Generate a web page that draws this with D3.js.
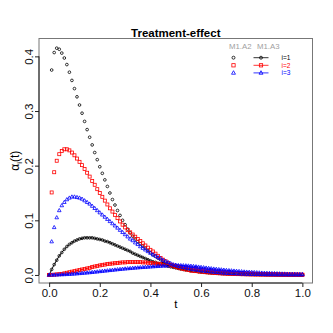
<!DOCTYPE html>
<html>
<head>
<meta charset="utf-8">
<script src="https://cdn.jsdelivr.net/npm/d3@7"></script>
<style>
  body { margin: 0; background: #fff; }
  svg { display: block; font-family: "Liberation Sans", Arial, sans-serif; }
</style>
</head>
<body>
<div id="chart"></div>
<script>
// time grid, 0 to 1 by 0.01
const tValues = d3.range(101).map(i => i / 100);

// M1.A2 (points only)
const a2i1 = [0, .375, .407, .415, .413, .406, .397, .385, .371, .356,
  .341, .326, .311, .296, .281, .266, .252, .238, .224, .211,
  .198, .186, .174, .162, .150, .138, .128, .118, .109, .100,
  .092, .084, .077, .071, .066, .061, .057, .053, .049, .045,
  .041, .037, .034, .031, .028, .025, .023, .020, .018, .016,
  .015, .013, .012, .011, .010, .009, .008, .0075, .007, .006,
  .0055, .005, .0045, .0041, .0037, .0034, .0031, .0028, .0025, .0023,
  .0021, .0019, .0017, .0016, .0014, .0013, .0012, .0011, .001, .0009,
  .0009, .0008, .0007, .0007, .0006, .0006, .0005, .0005, .0005, .0004,
  .0004, .0004, .0003, .0003, .0003, .0003, .0002, .0002, .0002, .0002,
  .0002];
const a2i2 = [0, .151, .188, .209, .221, .227, .230, .230, .228, .224,
  .219, .213, .207, .201, .194, .187, .180, .172, .165, .157,
  .150, .143, .136, .129, .122, .116, .110, .104, .098, .092,
  .087, .082, .078, .074, .070, .066, .062, .058, .054, .050,
  .046, .043, .039, .035, .031, .028, .025, .022, .019, .017,
  .015, .0135, .012, .011, .010, .009, .008, .0075, .007, .0065,
  .006, .0055, .005, .0046, .0042, .0038, .0035, .0032, .0029, .0026,
  .0024, .0022, .002, .0018, .0017, .0015, .0014, .0013, .0012, .0011,
  .001, .0009, .0009, .0008, .0007, .0007, .0006, .0006, .0005, .0005,
  .0005, .0004, .0004, .0004, .0003, .0003, .0003, .0003, .0003, .0002,
  .0002];
const a2i3 = [0, .061, .087, .105, .118, .127, .133, .138, .141, .143,
  .143, .142, .141, .139, .136, .133, .130, .126, .122, .118,
  .114, .110, .106, .102, .098, .094, .090, .086, .082, .078,
  .074, .070, .066, .063, .059, .056, .052, .049, .046, .043,
  .040, .037, .035, .032, .030, .027, .025, .023, .021, .019,
  .018, .016, .015, .014, .013, .012, .011, .010, .0095, .009,
  .008, .0075, .007, .0065, .006, .0055, .005, .0046, .0042, .0038,
  .0035, .0032, .0029, .0027, .0025, .0023, .0021, .0019, .0017, .0016,
  .0015, .0014, .0013, .0012, .0011, .001, .0009, .0009, .0008, .0008,
  .0007, .0007, .0006, .0006, .0005, .0005, .0005, .0004, .0004, .0004,
  .0004];

// M1.A3 (lines with points)
const a3i1 = [0, .010, .019, .027, .035, .041, .047, .052, .056, .059,
  .062, .064, .066, .067, .068, .068, .068, .068, .067, .066,
  .065, .064, .062, .061, .059, .057, .055, .053, .051, .049,
  .047, .045, .043, .040, .038, .036, .034, .032, .030, .028,
  .026, .024, .023, .021, .020, .019, .017, .016, .015, .014,
  .013, .012, .011, .010, .0095, .009, .008, .0075, .007, .0065,
  .006, .0055, .005, .0047, .0044, .004, .0037, .0034, .0031, .0029,
  .0027, .0025, .0023, .0021, .002, .0018, .0017, .0016, .0015, .0014,
  .0013, .0012, .0011, .001, .001, .0009, .0008, .0008, .0007, .0007,
  .0006, .0006, .0006, .0005, .0005, .0005, .0004, .0004, .0004, .0003,
  .0003];
const a3i2 = [0, .0002, .0005, .001, .0015, .002, .003, .004, .005, .006,
  .007, .008, .009, .010, .011, .012, .013, .0145, .0155, .0165,
  .0175, .0185, .019, .020, .0205, .021, .0215, .022, .0225, .023,
  .023, .0235, .0235, .0235, .0235, .0235, .0235, .023, .023, .0225,
  .022, .0215, .021, .0205, .020, .0195, .019, .018, .0175, .017,
  .016, .0155, .015, .014, .0135, .013, .012, .0115, .011, .010,
  .0095, .009, .0085, .008, .0075, .007, .0065, .006, .0057, .0054,
  .005, .0047, .0044, .0041, .0038, .0035, .0033, .0031, .0029, .0027,
  .0025, .0023, .0021, .002, .0018, .0017, .0016, .0015, .0014, .0013,
  .0012, .0011, .001, .001, .0009, .0008, .0008, .0007, .0007, .0006,
  .0006];
const a3i3 = [0, .0001, .0002, .0003, .0005, .0007, .0009, .0011, .0014, .0017,
  .002, .0024, .0028, .0032, .0036, .004, .0044, .0049, .0054, .0059,
  .0064, .0069, .0074, .0079, .0084, .0089, .0094, .0099, .0104, .0109,
  .0113, .0117, .0121, .0125, .0129, .0133, .0137, .014, .0143, .0146,
  .015, .0153, .0156, .0159, .0162, .0165, .0168, .017, .0172, .0174,
  .0175, .0175, .0174, .0172, .017, .0167, .0163, .0158, .0153, .0147,
  .0141, .0135, .0129, .0123, .0117, .0111, .0106, .0101, .0096, .0091,
  .0086, .0082, .0078, .0074, .007, .0066, .0062, .0058, .0055, .0052,
  .0049, .0046, .0043, .004, .0037, .0035, .0033, .0031, .0029, .0027,
  .0025, .0023, .0021, .002, .0018, .0017, .0016, .0015, .0014, .0013,
  .0012];

const xTicks = [0, 0.2, 0.4, 0.6, 0.8, 1.0];
const yTicks = [0, 0.1, 0.2, 0.3, 0.4];
const groupLabels = ["i=1", "i=2", "i=3"];
const colors = ["#000000", "#ff0000", "#0000ff"];
const shapes = ["circle", "square", "triangle"];

// layout
const width = 333, height = 333;
const plot = {left: 39, right: 312.5, top: 38.5, bottom: 283};

const x = d3.scaleLinear().domain([-0.04, 1.04]).range([plot.left, plot.right]);
const y = d3.scaleLinear().domain([-0.0147, 0.4327]).range([plot.bottom, plot.top]);

const svg = d3.select("#chart").append("svg")
    .attr("width", width)
    .attr("height", height);

// draws one marker of given shape into a selection
function marker(sel, shape, color, s = 1) {
    if (shape === "circle") {
        return sel.append("circle").attr("r", 1.35 * s)
            .attr("fill", "none").attr("stroke", color).attr("stroke-width", 0.8);
    } else if (shape === "square") {
        return sel.append("rect").attr("x", -1.5 * s).attr("y", -1.5 * s)
            .attr("width", 3 * s).attr("height", 3 * s)
            .attr("fill", "none").attr("stroke", color).attr("stroke-width", 0.8);
    }
    return sel.append("path").attr("d", `M0,${-2 * s} L${1.8 * s},${1.2 * s} L${-1.8 * s},${1.2 * s} Z`)
        .attr("fill", "none").attr("stroke", color).attr("stroke-width", 0.8);
}

function pointsOf(values) {
    return values.map((v, i) => ({t: tValues[i], v: v}));
}

const line = d3.line().x(d => x(d.t)).y(d => y(d.v));

const gData = svg.append("g").attr("class", "data");

// M1.A3 : line + markers
[a3i1, a3i2, a3i3].forEach((vals, k) => {
    const pts = pointsOf(vals);
    gData.append("path")
        .datum(pts)
        .attr("fill", "none")
        .attr("stroke", colors[k])
        .attr("stroke-width", 1)
        .attr("d", line);
    gData.append("g").selectAll("g")
        .data(pts)
        .join("g")
        .attr("transform", d => `translate(${x(d.t)},${y(d.v)})`)
        .each(function() { marker(d3.select(this), shapes[k], colors[k]); });
});

// M1.A2 : markers only
[a2i1, a2i2, a2i3].forEach((vals, k) => {
    gData.append("g").selectAll("g")
        .data(pointsOf(vals))
        .join("g")
        .attr("transform", d => `translate(${x(d.t)},${y(d.v)})`)
        .each(function() { marker(d3.select(this), shapes[k], colors[k]); });
});

// frame
svg.append("rect")
    .attr("x", plot.left).attr("y", plot.top)
    .attr("width", plot.right - plot.left)
    .attr("height", plot.bottom - plot.top)
    .attr("fill", "none")
    .attr("stroke", "#777")
    .attr("stroke-width", 1);

// axes
const xAxis = svg.append("g")
    .attr("transform", `translate(0,${plot.bottom})`)
    .call(d3.axisBottom(x).tickValues(xTicks).tickFormat(d3.format(".1f")).tickSize(4).tickSizeOuter(0));
xAxis.select(".domain").attr("d", `M${x(0)},0H${x(1)}`).attr("stroke", "#222");
xAxis.selectAll(".tick line").attr("stroke", "#222");
xAxis.selectAll("text")
    .attr("font-size", 11.5)
    .attr("fill", "#111")
    .attr("y", 6)
    .attr("dy", "0.71em");

const yAxis = svg.append("g")
    .attr("transform", `translate(${plot.left},0)`)
    .call(d3.axisLeft(y).tickValues(yTicks).tickFormat(d3.format(".1f")).tickSize(4).tickSizeOuter(0));
yAxis.select(".domain").attr("d", `M0,${y(0)}V${y(0.4)}`).attr("stroke", "#222");
yAxis.selectAll(".tick line").attr("stroke", "#222");
yAxis.selectAll("text")
    .attr("font-size", 11.5)
    .attr("fill", "#111")
    .attr("x", null).attr("dy", null)
    .attr("text-anchor", "middle")
    .attr("transform", "translate(-6,0) rotate(-90)");

// title and axis titles
svg.append("text")
    .attr("x", (plot.left + plot.right) / 2)
    .attr("y", 36.5)
    .attr("text-anchor", "middle")
    .attr("font-size", 11.5)
    .attr("font-weight", "bold")
    .text("Treatment-effect");

svg.append("text")
    .attr("x", x(0.5))
    .attr("y", 307.5)
    .attr("text-anchor", "middle")
    .attr("font-size", 11.5)
    .text("t");

const yLab = svg.append("text")
    .attr("transform", `translate(19,${(plot.top + plot.bottom) / 2}) rotate(-90)`)
    .attr("text-anchor", "middle")
    .attr("font-size", 12);
yLab.append("tspan").text("α");
yLab.append("tspan").attr("font-size", 8).attr("dy", 2.5).text("i");
yLab.append("tspan").attr("dy", -2.5).text("(t)");

// legend
const leg = svg.append("g").attr("transform", "translate(229,49)");
leg.append("text").attr("x", 0).attr("y", 0)
    .attr("font-size", 7.8).attr("fill", "#a0a0a0").text("M1.A2");
leg.append("text").attr("x", 28).attr("y", 0)
    .attr("font-size", 7.8).attr("fill", "#a0a0a0").text("M1.A3");

groupLabels.forEach((lab, k) => {
    const ry = 8.7 + k * 7.6;
    marker(leg.append("g").attr("transform", `translate(4.5,${ry})`), shapes[k], colors[k], 1.1);
    leg.append("line")
        .attr("x1", 24.5).attr("x2", 39.5)
        .attr("y1", ry).attr("y2", ry)
        .attr("stroke", colors[k]).attr("stroke-width", 0.8);
    marker(leg.append("g").attr("transform", `translate(32,${ry})`), shapes[k], colors[k], 1.1);
    leg.append("text")
        .attr("x", 52.5).attr("y", ry + 2.5)
        .attr("font-size", 6.6)
        .attr("fill", colors[k])
        .text(lab);
});
</script>
</body>
</html>
